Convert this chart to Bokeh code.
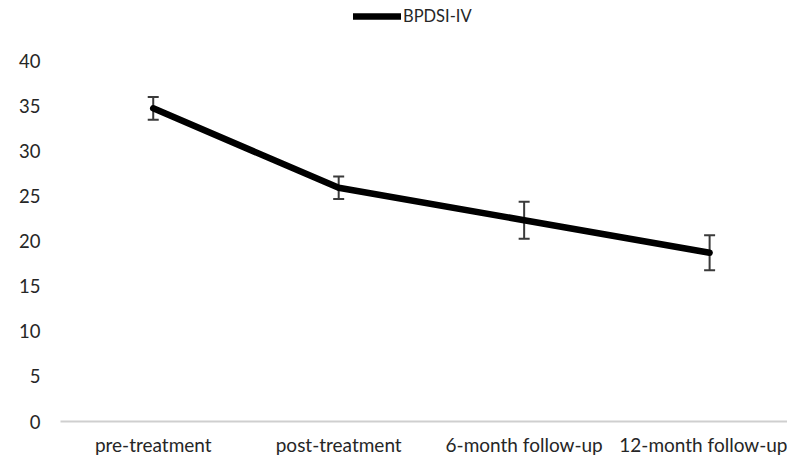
from bokeh.plotting import figure
from bokeh.models import ColumnDataSource, Whisker, TeeHead, Range1d, Legend, LegendItem, FixedTicker
from bokeh.embed import file_html
from bokeh.resources import INLINE

categories = ["pre-treatment", "post-treatment", "6-month follow-up", "12-month follow-up"]
means = [34.7, 25.9, 22.3, 18.7]
errors = [1.25, 1.25, 2.05, 1.95]
y_ticks = [0, 5, 10, 15, 20, 25, 30, 35, 40]
series_name = "BPDSI-IV"

xs = list(range(len(categories)))
src = ColumnDataSource(dict(
    x=xs,
    y=means,
    upper=[m + e for m, e in zip(means, errors)],
    lower=[m - e for m, e in zip(means, errors)],
))

FONT = "Lato"

# frame spans full top of the canvas so the legend can sit inside it
p = figure(width=787, height=459, output_backend="svg", toolbar_location=None,
           x_range=Range1d(-0.5, 3.42), y_range=Range1d(0, 46.65),
           min_border_left=60, min_border_right=0, min_border_top=0, min_border_bottom=38)
p.outline_line_color = None
p.xgrid.visible = False
p.ygrid.visible = False

line = p.line("x", "y", source=src, line_color="black", line_width=6.5, line_join="round", line_cap="round")

w = Whisker(base="x", upper="upper", lower="lower", source=src,
            line_color="#3a3a3a", line_width=2,
            upper_head=TeeHead(size=11, line_color="#3a3a3a", line_width=2),
            lower_head=TeeHead(size=11, line_color="#3a3a3a", line_width=2))
p.add_layout(w)

# y axis
p.yaxis.ticker = FixedTicker(ticks=y_ticks)
p.yaxis.axis_line_color = None
p.yaxis.major_tick_line_color = None
p.yaxis.minor_tick_line_color = None
p.yaxis.major_tick_out = 0
p.yaxis.major_tick_in = 0
p.yaxis.major_label_standoff = 20
p.yaxis.major_label_text_font = FONT
p.yaxis.major_label_text_font_size = "18.5px"
p.yaxis.major_label_text_color = "#262626"

# x axis
p.xaxis.ticker = FixedTicker(ticks=xs)
p.xaxis.major_label_overrides = {i: c for i, c in enumerate(categories)}
p.xaxis.axis_line_color = "#cfcfcf"
p.xaxis.axis_line_width = 2
p.xaxis.major_tick_line_color = None
p.xaxis.minor_tick_line_color = None
p.xaxis.major_tick_out = 0
p.xaxis.major_tick_in = 0
p.xaxis.major_label_standoff = 11
p.xaxis.major_label_text_font = FONT
p.xaxis.major_label_text_font_size = "19px"
p.xaxis.major_label_text_color = "#262626"

legend = Legend(items=[LegendItem(label=series_name, renderers=[line])],
                orientation="horizontal", location=(293, 421 - 26),
                border_line_color=None, background_fill_alpha=0,
                label_text_font=FONT, label_text_font_size="16.5px", label_text_color="#262626",
                glyph_width=48, glyph_height=20, label_standoff=2, label_height=20,
                padding=2, margin=0, spacing=0)
p.add_layout(legend, "center")

open("out.html", "w").write(file_html(p, INLINE))
